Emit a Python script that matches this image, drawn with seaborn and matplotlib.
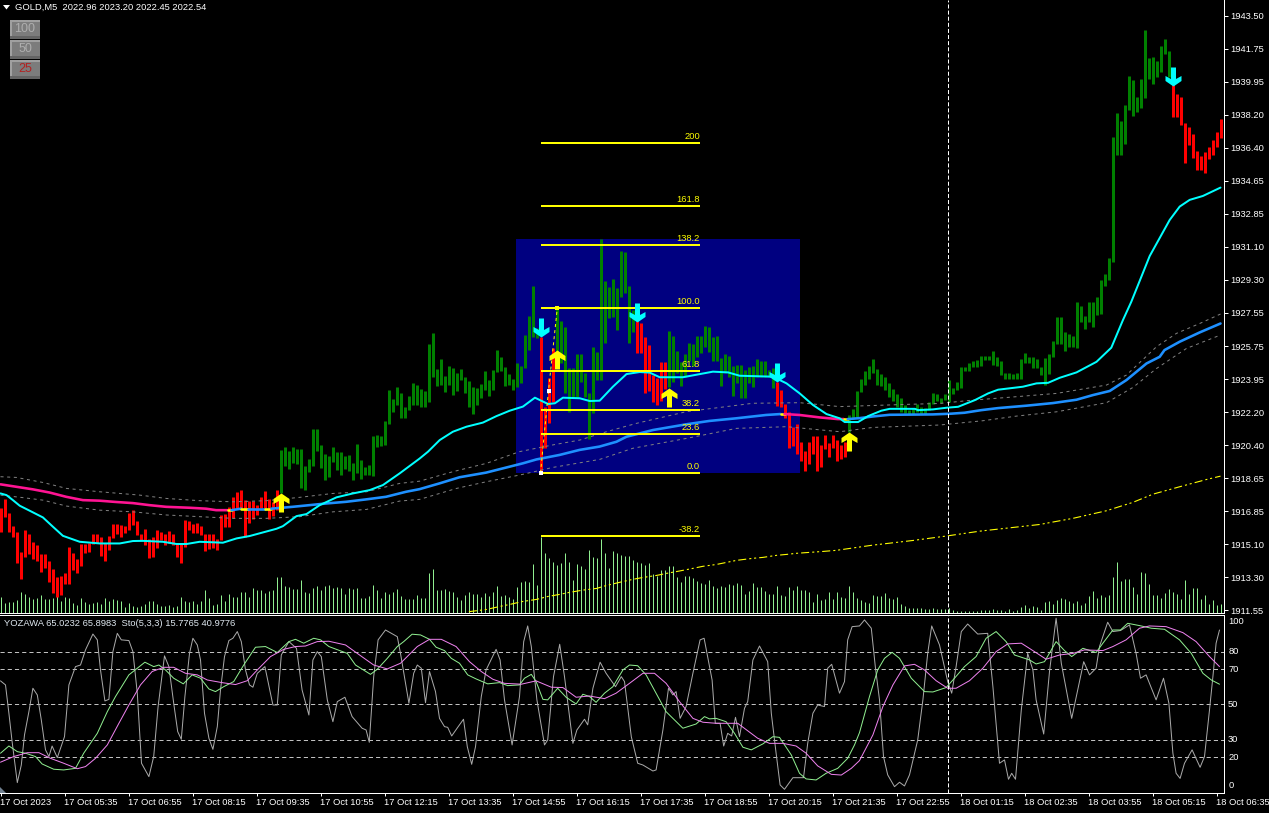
import numpy as np
import matplotlib
matplotlib.use("Agg")
import matplotlib.pyplot as plt
from matplotlib.patches import Rectangle, Polygon
from matplotlib.path import Path
from matplotlib.markers import MarkerStyle
import seaborn as sns

# ---------- data ----------
candle_high = [
1917.01,1917.50,1916.75,1916.06,1915.76,1914.68,1915.85,1915.63,1915.22,1915.04,
1914.56,1914.56,1914.18,1913.75,1913.34,1913.37,1913.52,1914.92,1914.59,1914.29,
1915.10,1915.10,1915.13,1915.63,1915.63,1915.49,1915.13,1915.53,1916.17,1916.17,
1916.12,1916.06,1916.75,1916.92,1916.33,1915.63,1915.90,1915.37,1915.49,1915.85,
1915.74,1915.63,1915.78,1915.62,1915.10,1915.13,1916.39,1916.33,1916.17,1916.21,
1916.06,1915.62,1915.62,1915.62,1915.37,1916.66,1916.71,1917.10,1917.61,1917.91,
1918.00,1917.46,1917.41,1917.41,1917.19,1917.64,1917.95,1917.50,1917.37,1918.00,
1920.16,1920.32,1920.10,1920.32,1920.21,1920.21,1919.30,1919.67,1921.29,1921.29,
1920.43,1919.94,1919.83,1920.32,1920.05,1920.05,1919.83,1919.89,1919.46,1920.48,
1919.62,1919.24,1919.35,1920.91,1920.96,1920.91,1921.72,1923.38,1922.90,1923.54,
1923.22,1922.47,1923.06,1923.76,1923.65,1923.44,1923.33,1925.86,
1926.43,1924.50,1925.03,1924.14,1924.67,1924.58,1924.28,1924.50,1924.10,1923.87,
1923.53,1923.47,1923.71,1924.41,1923.92,1924.46,1925.54,1925.14,1924.60,1924.24,
1923.98,1924.82,1924.67,1926.34,1927.36,1928.98,1926.70,1926.25,1922.49,1924.01,
1925.66,1927.72,1927.10,1926.79,1924.55,1924.55,1925.32,1925.32,1924.28,1923.20,
1925.71,1925.45,1931.51,1929.25,1928.94,1929.34,1928.89,1930.86,1930.82,1928.99,
1927.69,1927.24,1926.97,1926.22,1925.80,1924.19,1924.05,1924.91,1924.91,1926.56,
1926.29,1925.50,1924.91,1925.30,1925.93,1925.86,1926.29,1926.29,1926.83,1926.75,
1926.25,1926.29,1925.12,1925.32,1925.21,1924.67,1924.73,1924.73,1924.46,1924.64,
1924.67,1925.05,1924.96,1924.94,1924.46,1924.55,1923.83,1923.38,1922.63,1922.22,
1921.38,1921.55,1920.60,1920.12,1920.60,1920.93,1920.91,1920.43,1920.96,1920.51,
1920.96,1920.69,
1920.42,1920.60,1922.03,1922.34,1923.32,1924.00,1924.40,1924.67,1925.03,1924.49,
1924.22,1924.06,1923.74,1923.43,1923.15,1922.93,1922.57,1922.30,1922.43,1922.61,
1922.45,1922.39,1922.72,1923.20,1923.15,1922.98,1923.15,1923.92,1923.47,1923.79,
1924.60,1924.60,1924.81,1924.94,1924.99,1925.21,1925.23,1925.21,1925.48,1925.14,
1924.94,1924.31,1924.28,1924.24,1924.28,1925.03,1925.40,1925.17,1925.14,1925.03,
1924.63,1925.08,1925.30,1926.01,1927.29,1927.29,1926.52,1926.37,1926.30,1928.09,
1927.90,1927.36,1928.12,1928.12,1928.39,1929.30,1929.62,1930.48,1937.01,1938.27,
1937.86,1938.72,1940.28,1940.06,1939.13,1940.12,1942.75,1941.23,1941.28,1941.10,
1941.89,1942.27,1941.62,1939.88,1939.31,1939.15,1937.73,1937.53,1937.16,1936.24,
1935.97,1936.19,1936.46,1936.84,1937.27,1937.96]

candle_low = [
1915.76,1916.53,1915.76,1915.49,1914.09,1913.21,1914.42,1914.54,1914.32,1914.20,
1913.61,1913.79,1913.07,1912.48,1912.26,1912.35,1912.94,1912.94,1913.70,1913.55,
1913.93,1914.63,1914.68,1915.10,1915.13,1914.47,1914.20,1914.77,1915.44,1915.62,
1915.49,1915.67,1915.85,1916.12,1915.58,1915.27,1915.04,1914.36,1914.42,1914.90,
1915.31,1915.04,1915.13,1915.04,1914.42,1914.09,1914.95,1915.85,1915.67,1915.71,
1915.58,1914.72,1914.81,1914.86,1914.77,1915.31,1915.99,1916.03,1916.48,1917.01,
1917.01,1915.49,1916.21,1916.46,1916.66,1917.01,1917.01,1916.42,1916.60,1916.92,
1917.83,1919.30,1919.13,1919.46,1919.40,1918.11,1918.00,1918.97,1919.30,1920.10,
1919.19,1918.54,1918.70,1919.51,1919.08,1918.81,1919.13,1919.03,1918.54,1918.92,
1918.60,1918.81,1918.81,1918.76,1920.32,1920.37,1920.43,1921.55,1922.20,1922.58,
1921.88,1921.88,1922.31,1922.58,1922.58,1922.47,1922.47,1922.74,
1924.10,1923.62,1923.65,1923.29,1923.65,1923.11,1923.35,1923.92,1923.20,1922.49,
1922.09,1922.58,1922.97,1923.38,1923.06,1923.38,1924.37,1924.41,1923.62,1923.65,
1923.38,1923.56,1923.74,1924.58,1925.54,1926.25,1926.16,1918.92,1920.25,1921.59,
1922.76,1925.45,1924.82,1923.24,1922.22,1923.02,1923.02,1923.83,1923.02,1920.73,
1922.16,1923.92,1923.92,1925.89,1927.24,1927.29,1926.61,1928.40,1928.62,1925.93,
1926.49,1925.39,1925.39,1923.24,1923.33,1922.76,1922.58,1922.81,1923.42,1923.56,
1923.83,1924.28,1923.60,1924.10,1924.96,1924.69,1925.18,1925.36,1925.71,1925.45,
1924.94,1924.94,1923.62,1924.28,1924.10,1923.08,1923.74,1922.97,1922.97,1923.78,
1923.53,1924.10,1924.10,1924.10,1924.10,1923.47,1922.54,1922.49,1921.86,1920.26,
1920.37,1919.94,1919.58,1919.04,1919.40,1919.94,1919.04,1919.26,1920.21,1919.80,
1920.25,1919.58,
1919.65,1919.79,1921.14,1921.85,1921.94,1923.29,1923.65,1924.00,1924.28,1923.65,
1923.59,1923.38,1923.02,1922.79,1922.48,1922.21,1922.12,1922.09,1922.09,1922.21,
1922.09,1922.09,1922.30,1922.63,1922.79,1922.70,1922.84,1922.75,1923.15,1923.38,
1923.47,1924.42,1924.42,1924.63,1924.63,1924.69,1924.99,1924.99,1924.72,1924.69,
1924.19,1924.00,1924.00,1923.97,1924.00,1923.97,1924.81,1924.85,1924.54,1924.58,
1924.19,1923.65,1924.24,1925.17,1925.85,1925.85,1925.48,1925.71,1925.71,1925.66,
1927.04,1926.66,1927.04,1926.77,1927.42,1927.47,1928.98,1929.30,1930.27,1936.03,
1936.03,1936.62,1938.45,1938.13,1938.31,1938.54,1939.08,1940.10,1939.85,1940.21,
1940.47,1941.46,1940.24,1938.09,1938.05,1937.64,1935.58,1936.57,1935.87,1935.22,
1935.22,1935.04,1935.81,1936.03,1936.46,1936.94]

bull_runs = [(70, 134), (139, 158), (167, 193), (212, 292)]

tick_volume = [
16,10,11,11,13,21,19,16,14,15,18,14,14,15,17,12,16,
15,10,8,15,11,9,10,11,9,15,12,14,13,12,6,10,7,6,7,9,12,12,9,7,7,8,6,7,16,12,
11,12,9,12,23,15,8,9,18,12,19,16,16,21,21,16,25,23,23,20,22,23,36,36,27,26,24,24,33,21,
20,25,27,23,27,28,25,26,25,19,25,24,25,15,15,17,28,23,15,21,19,21,24,17,14,14,14,18,
15,15,40,44,23,23,24,22,21,16,13,18,21,19,19,16,20,17,21,27,17,18,16,14,26,31,32,31,49,28,
76,60,55,51,48,50,60,51,33,49,47,44,63,56,55,74,60,45,62,60,58,57,57,53,51,50,48,50,39,37,
43,43,47,47,36,31,37,37,35,32,30,29,33,27,25,27,26,29,28,30,28,19,22,30,26,26,22,19,19,27,
18,17,26,23,27,23,23,21,11,19,13,14,21,14,21,
16,15,27,21,15,13,11,10,18,17,17,20,15,14,16,9,7,5,5,5,5,4,4,5,4,4,4,5,3,2,2,2,2,2,2,3,3,3,
4,3,3,2,4,2,3,6,8,5,7,6,3,11,12,9,13,15,14,12,10,12,8,10,17,22,15,18,16,18,36,51,32,34,34,26,
19,41,40,29,18,18,15,20,24,21,19,14,33,19,25,25,14,18,9,13,8,9]

fast_i = [0,1.5,3.1,4.8,7.3,10.6,13.1,15.6,19.8,24.8,29.8,33.1,35.6,40.6,44,46.5,49.8,55.6,59,62.3,69,70.6,74,76.5,79.8,84,88.1,92.3,95.6,99.8,104.8,
          106.9,109.8,113.1,116.5,120.6,124,127.3,130.6,133.6,136.9,138.6,140.6,144.8,147.3,149.8,153.1,156.5,159.8,162.3,164.8,170.6,178.1,181.9,184.8,193.1,196.5,199.8,203.1,206.5,209.8,
          211.05,214.4,216.9,220.2,222.3,228.6,229.4,233.1,236.5,239.4,243.6,246.9,249.4,255.6,259,261.9,264.8,269,274,277.7,280.6,282.7,287.3,292.3,294.8,297.3,300.6,305]
fast_ma = [1917.82,1917.73,1917.46,1917.16,1916.89,1916.53,1916.03,1915.54,1915.22,1915.13,1915.13,1915.26,1915.27,1915.22,1915.10,1915.10,1915.22,1915.17,1915.40,1915.53,1915.92,1916.06,1916.60,1916.71,1917.19,1917.61,1917.82,1918.0,1918.27,1918.90,1919.70,
           1920.07,1920.69,1921.14,1921.41,1921.63,1921.98,1922.27,1922.49,1922.97,1922.63,1922.67,1922.97,1922.94,1922.79,1922.81,1923.56,1924.24,1924.35,1924.32,1924.07,1924.07,1924.37,1924.33,1924.15,1924.10,1923.74,1923.20,1922.58,1922.09,1921.86,
           1921.66,1921.66,1921.98,1922.27,1922.37,1922.37,1922.30,1922.34,1922.43,1922.48,1922.84,1923.20,1923.40,1923.56,1923.74,1923.77,1924.04,1924.33,1924.90,1925.66,1927.14,1928.13,1930.59,1932.53,1933.25,1933.61,1933.82,1934.27]

slow_i = [0,3.9,8.1,12.25,16.4,20.6,24.75,28.9,33.1,37.25,41.4,47.25,51.4,53.9,56.75,57.75,60.2,61.8,66,67.7,73,77.25,81.4,86.4,91.4,96.4,101.4,104.75,
          109.75,114.75,121.4,130.6,134,139.75,144.75,149.75,154,156.5,163.1,171.5,177.25,183.9,191.4,195,196,199.75,204.75,209.3,
          210.8,211.8,214.8,218.1,222.3,233.1,237.7,241,245.2,249.4,256.5,263.1,269,273.1,277.3,281.5,286.5,289.8,291,294.8,299.8,305]
slow_ma = [1918.31,1918.18,1918.04,1917.87,1917.64,1917.46,1917.43,1917.36,1917.30,1917.19,1917.10,1917.05,1917.0,1916.92,1916.92,1916.92,1917.0,1917.0,1917.0,1917.0,1917.1,1917.19,1917.28,1917.37,1917.5,1917.64,1917.91,1918.05,
           1918.36,1918.69,1918.94,1919.44,1919.65,1919.89,1920.16,1920.34,1920.60,1920.87,1921.23,1921.54,1921.72,1921.86,1922.04,1922.09,1922.09,1922.04,1921.91,1921.82,
           1921.82,1921.82,1921.87,1921.96,1922.05,1922.07,1922.11,1922.16,1922.30,1922.41,1922.54,1922.68,1922.86,1923.11,1923.33,1923.92,1924.81,1925.17,1925.53,1925.98,1926.48,1926.96]
slow_runs = [(0,56.75,"#ff1493"),(56.75,57.75,"#ffff00"),(57.75,60.2,"#1e90ff"),(60.2,61.8,"#ffff00"),(61.8,66,"#1e90ff"),(66,67.7,"#ffff00"),
             (67.7,195,"#1e90ff"),(195,196,"#ffff00"),(196,210.8,"#ff1493"),(210.8,211.8,"#ffff00"),(211.8,305,"#1e90ff")]

upper_i = [0,4,10.6,16.5,24.8,34.8,41.5,49.8,58.1,66.5,74.8,83.1,91.5,99.8,104.8,113.1,121.5,129.8,138.1,144.8,151.5,159,171.5,188.1,199.8,209.8,226.5,234.8,243.1,251.5,264,276.5,281.5,289,294,299.8,305]
upper_band = [1918.72,1918.68,1918.41,1918.09,1917.91,1917.73,1917.55,1917.43,1917.37,1917.43,1917.61,1917.82,1917.91,1918.36,1918.48,1918.99,1919.44,1920.07,1920.43,1920.69,1921.14,1921.59,1922.22,1922.67,1922.70,1922.49,1922.61,1922.66,1922.84,1922.98,1923.20,1923.65,1924.19,1925.71,1926.43,1926.96,1927.47]
lower_i = [0,5,10.6,16.5,24.8,33.1,41.5,49.8,58.1,66.5,74.8,83.1,91.5,99.8,104.8,114,121.5,129.8,138.1,149.8,158.1,171.5,184,196.5,209.8,218.1,234.8,245.6,254,264,276.5,283.1,289,296.5,305]
lower_band = [1917.73,1917.61,1917.46,1917.14,1916.92,1916.83,1916.66,1916.57,1916.48,1916.48,1916.57,1916.83,1916.96,1917.41,1917.50,1918.09,1918.45,1918.81,1919.22,1919.65,1920.25,1920.78,1921.32,1921.41,1921.14,1921.37,1921.50,1921.73,1921.98,1922.21,1922.70,1923.52,1924.54,1925.62,1926.34]

long_i = [117.1,121.5,124.8,127.3,130.6,134,136.9,139.8,142.3,145.6,149,151.5,154.8,158.1,160.6,164,166.5,169.8,173.1,175.6,179,181.5,184,188.1,190.6,194,196.5,199,202.3,205.6,209,218.1,228.1,236.5,244.8,253.1,259.8,268.1,276.5,283.1,288.1,294.8,301.5,305]
long_ma = [1911.46,1911.58,1911.74,1911.85,1912.01,1912.12,1912.28,1912.39,1912.50,1912.62,1912.71,1912.87,1913.04,1913.20,1913.30,1913.41,1913.52,1913.65,1913.79,1913.90,1914.0,1914.11,1914.22,1914.33,1914.38,1914.49,1914.54,1914.60,1914.65,1914.70,1914.76,1915.04,1915.29,1915.53,1915.79,1915.99,1916.15,1916.48,1916.89,1917.34,1917.78,1918.18,1918.57,1918.75]

fib_start = 1918.92
fib_end = 1927.79
fib_levels = [0.0, 23.6, 38.2, 61.8, 100.0, 138.2, 161.8, 200.0, -38.2]
fib_span = [135, 174.9]
fib_line_i = [135, 137, 139.2]
fib_zone_i = [128.9, 199.9]
fib_zone_price = [1918.92, 1931.51]

up_signal_i = [70, 139, 167, 212]
up_signal_price = [1917.84, 1925.54, 1923.49, 1921.12]
down_signal_i = [135, 159, 194, 293]
down_signal_price = [1926.23, 1927.04, 1923.81, 1939.74]

cursor_i = 236.9

price_ticks = [1943.50,1941.75,1939.95,1938.20,1936.40,1934.65,1932.85,1931.10,1929.30,1927.55,1925.75,1923.95,1922.20,1920.40,1918.65,1916.85,1915.10,1913.30,1911.55]
time_labels = ["17 Oct 2023","17 Oct 05:35","17 Oct 06:55","17 Oct 08:15","17 Oct 09:35","17 Oct 10:55","17 Oct 12:15","17 Oct 13:35","17 Oct 14:55","17 Oct 16:15",
               "17 Oct 17:35","17 Oct 18:55","17 Oct 20:15","17 Oct 21:35","17 Oct 22:55","18 Oct 01:15","18 Oct 02:35","18 Oct 03:55","18 Oct 05:15","18 Oct 06:35"]
time_ticks = list(range(0, 305, 16))

sto_levels = [80, 70, 50, 30, 20]
sto_labels = [100, 80, 70, 50, 30, 20, 0]

stoch_i = [0,1.25,2.1,2.9,4.2,5.2,6,7.1,8.1,9.2,10.2,11.25,12.1,12.9,14.2,16,17.1,18.75,20,21.25,23.1,24.2,25,26.1,27.1,28.1,29.2,30.2,32.1,33.1,34.2,35.25,37.1,38.3,39.4,41,42.1,43.3,44.3,45.2,46.1,47.25,48.1,49.2,50,51,52.1,53.1,54.2,55,56,57.1,58.1,59.2,60.2,61.25,62.25,63.1,64.2,66.1,68.1,69.2,70.2,72.1,74,75.4,77.1,78.1,79.2,80.2,81.7,83.1,84.2,86.1,87.9,90.4,91.4,92.2,93.3,94.4,96.25,99.2,100,102.1,103.3,104.2,105.2,106.25,107.25,
           108.75,109.75,111,111.8,112.8,114.3,115.75,116.7,117.8,118.75,120.2,121.4,123.9,124.9,126,127.9,129.75,130.8,131.8,132.7,134.1,136,136.8,138.25,139.8,141,142.25,143.1,144.1,146,146.8,148.1,149.9,151.4,153.75,155.2,156,157.7,159.3,160.6,163.1,163.9,165.6,167,168.1,168.9,169.9,171.4,173.1,174.9,175.9,177.9,178.7,179.9,180.8,181.8,182.8,183.75,184.75,186,186.8,188.1,189.75,191.8,192.7,193.9,194.9,196,198.1,200.75,201.8,203.1,204.3,206,206.8,207.8,209.75,211,211.8,212.9,214.75,
           216,217.7,218.7,219.75,220.75,221.8,223.5,224.75,226,227.25,229.3,230.6,231.8,232.8,234.75,236.8,237.8,238.9,240.2,241.8,244.3,246.8,248.1,249.75,251,252,252.8,253.75,255.2,256.8,258.1,258.9,260.8,262.25,263.9,265.2,267.8,270.8,272.25,273.9,274.75,276.8,278.1,280,282.25,283.9,285,286.4,288.9,290.75,292.1,293.1,293.9,294.9,296,297.9,299.9,301,302.25,303.1,303.9,304.75]
stoch_k = [63.4,61.1,45,28.9,5.6,15.6,32.7,45.9,59.2,55.4,41.2,24.2,20.4,26.4,19.8,31.7,61.1,71.5,72.4,81,90,86.7,69.6,52,52.9,80,90.4,86.7,86.3,80,56.4,16.6,9,20.4,48.8,77.6,71.5,50.7,34.6,30.2,54.5,79,87.6,83.8,75.3,45,30.8,24.5,37.4,58.2,77.2,86.3,87.6,91.4,85.7,69.6,61.1,59.8,67.7,71.5,49.7,49.7,78.1,85.7,81.9,58.2,44,75.3,80,77.2,52.6,40.2,51.6,54.1,43.1,36.5,35.5,28.5,65.8,86.7,92.3,88.5,79,50.7,67.7,72.4,70.6,51,68.7,
           57.3,42.1,37.4,37,32.1,37,41.6,26,16,26,54.5,69.6,81.3,75.3,52.6,27,54.5,85.7,94.6,82.9,52.6,27,29.8,65.8,84.2,65.8,43.1,27.9,35.5,41.6,38.4,59.2,74,67.7,60.1,65.8,63,31.7,16.6,15.6,12.2,12.8,35.5,59.2,55.4,57.3,42.1,48.8,67.7,86.7,87.6,63.9,39.3,39.3,26.4,33.6,32.1,42.7,31.7,47.8,51.6,75.3,83.2,74.3,45,22.3,4.3,1.8,8.4,8.4,27.9,45,49.7,48.8,70.6,72.8,56.4,63,86.7,94.2,94.6,
           98,93.3,71.5,52.6,20.4,10,3.3,5.8,3.7,10,29.8,52.6,79,94.6,83.8,63,56.4,71.5,91.4,95.7,90,90.4,60.1,16.6,18.5,7.5,10.9,7.5,46.9,79,69.6,52.6,33.2,68.7,99,73.4,42.1,74.3,66.8,70.6,82.9,96.7,91.4,92,95.2,79,64.9,66.8,52.6,64.9,50.7,22.3,10.9,8,16.6,24.2,14.3,20.4,46.9,65.8,84.8,92.3]

signal_i = [0,2.1,4.2,6.25,8.75,10.4,13.3,15.8,18.75,20.8,24.2,26.7,28.75,32.1,34.2,36.1,38.3,39.6,41.25,43.3,45.7,47.9,50,52.1,53.75,55.8,58.3,60.8,63.75,66.25,69.2,72.1,73.75,75.8,78.3,80,82.1,86.7,88.75,92.5,94.2,96.7,99.2,100.8,102.9,105,107.25,
            108.9,111,112.7,114.75,116.8,118.9,121.8,124.75,126.8,129.75,131,132.7,133.9,135.6,136.8,139.3,141.4,143.9,145.6,147.25,148.9,151,153.1,155.6,157.25,159.3,161.4,163.9,166.4,170.6,173.9,176,177.25,178.9,181.4,183.5,185.6,187.7,190.6,193.1,194.75,197.7,199.75,201.4,203.9,206.4,209.3,211.8,213.5,214.75,
            217.25,219.3,221,222.9,224.75,227.7,231,233.1,236.4,238.5,241,243.9,246.4,248.9,251.4,253.5,257.25,258.9,261,263.9,266,267.8,270.6,273.9,275.6,278.1,280,281.8,284.75,287.7,291,294.75,297.7,300.6,302.7,304.75]
stoch_d = [22.3,26.4,23.2,22.3,20.4,16.2,13.2,12.8,13.7,22.3,33.6,45.9,54.5,66.8,70.6,74,71.5,72.4,69.6,64.9,61.7,66.8,64.9,58.8,57.3,60.1,63,72.4,82.5,82.9,79.5,85.7,87,84.8,87.6,86.7,82.9,79,72.4,67.1,70,76.2,82.9,85.7,89.9,89.5,87,
           82.5,80.6,76.2,73.4,66.8,64.5,61.7,62.4,60.7,61.1,64.9,67.1,63,52.9,52.6,59.2,54.1,50.3,55.8,54.5,51.2,56.4,60.1,69.6,72.4,72,66.8,56.4,45.9,36.5,38.9,43.1,41.8,42.1,40.2,33.6,25.7,24.2,27.6,31.7,31.3,21.3,10.9,7.7,7.1,10.9,13.7,19.4,27,34,
           54.5,69.6,76.2,79.6,76.2,64.9,57.3,57.1,59.6,64.9,71.5,77.2,87.6,91.4,85.7,78.1,75.3,73,74.3,85.7,80.6,77.2,81.9,79.5,84.8,92.3,92.3,96.1,94.8,93.3,92.7,86.7,79,67.7,63.9,61.5]

slow_sto_i = [0,3.3,6.7,9.6,12.5,15.8,19.2,21.25,23.75,26.7,29.6,32.1,35,37.9,40.8,43.3,46.25,49.2,51.7,55.4,58.75,61.7,64.2,67.5,70.8,73.75,76.25,79.2,82.1,86.25,89.2,93.3,96.7,100,104.2,107.25,
              110.2,113.9,117.25,120.2,123.1,126,130.2,133.9,137.7,140.6,143.9,147.25,151,153.9,157.25,160.6,163.5,166.4,169.75,173.1,175.6,178.9,184.3,189.3,192.25,195.6,198.9,201.4,204.3,207.7,210.2,212.7,214.75,
              218.1,220.6,223.1,226,228.5,231,233.9,236.8,238.9,242.25,245.6,248.9,251.8,255.2,258.5,261.4,264.75,268.1,271,275.6,278.1,281.4,284.75,287.25,291.4,295.6,298.9,302.25,304.75]
stoch_slow = [17.2,20.4,22.6,22.6,19.4,16.6,13.5,14.7,19.4,27,39.3,49.7,61.1,68.7,71.1,71.1,67.7,66.8,63.9,62.4,61.3,63.5,69.6,77.2,81.3,82.9,83.2,85.7,85.9,83.8,79,72.4,70.2,73.4,82.9,87,
              87,82.9,74.3,68.7,64.3,62,61.5,63.4,59.8,59.6,54.1,54.8,53.3,56.4,62,67.7,67.7,62,51.6,42.1,39.9,39.3,39.3,30.8,27.9,27.9,26.4,22.3,15.1,10.3,9.9,13.7,18.1,
              32.7,48.8,61.1,71.9,72.8,69.6,63.5,59.2,59.2,63.5,70.6,80,84.4,84.8,80,75.7,78.1,79,81,80.6,82.9,86.7,93.3,94.6,94.2,90.8,85.7,77.2,71.5]

# ---------- style ----------
W, H = 1269, 813
sns.set_theme(style="dark", rc={
    "axes.facecolor": "black", "figure.facecolor": "black", "savefig.facecolor": "black",
    "lines.scale_dashes": False, "text.color": "white",
    "xtick.color": "white", "ytick.color": "white",
})
plt.rcParams["font.family"] = ["Liberation Sans", "DejaVu Sans"]
FS = 6.75
PX = 0.72   # points per pixel at 100 dpi


def box(l, t, r, b):
    return [l / W, 1 - b / H, (r - l) / W, (b - t) / H]


fig = plt.figure(figsize=(W / 100, H / 100), dpi=100)
ax_vol = fig.add_axes(box(0, 0, 1224, 612.5), zorder=1)
ax = fig.add_axes(box(0, 0, 1224, 612.5), zorder=2)
ax_sto = fig.add_axes(box(0, 614.5, 1224, 793), zorder=2)
ax.patch.set_alpha(0)

XLIM = (-0.125, 305.875)   # one bar every 4 px, centred on a pixel
for a in (ax_vol, ax, ax_sto):
    a.set_xlim(*XLIM)
    a.grid(False)

ax.set_ylim(1911.416, 1944.36)
ax_sto.set_ylim(-0.3, 101.1)
ax_vol.set_ylim(0, 612.5)
ax_vol.axis("off")


def draw(axis, x, y, color, lw_px=1.0, ls="-", z=3):
    sns.lineplot(x=list(x), y=list(y), ax=axis, color=color, linewidth=lw_px * PX,
                 estimator=None, sort=False, legend=False, linestyle=ls, zorder=z,
                 errorbar=None)


# volume
ax_vol.vlines(np.arange(len(tick_volume)), 0, tick_volume, color="#90ee90",
              linewidth=PX, antialiased=True)

# fibo zone
ax.add_patch(Rectangle((fib_zone_i[0], fib_zone_price[0]), fib_zone_i[1] - fib_zone_i[0],
                       fib_zone_price[1] - fib_zone_price[0], facecolor="#000080",
                       edgecolor="none", zorder=0.5))

# candles
n = len(candle_high)
idx = np.arange(n)
colors = np.array(["#ff0000"] * n, dtype=object)
for a0, a1 in bull_runs:
    colors[a0:a1 + 1] = "#008000"
ax.vlines(idx, candle_low, candle_high, colors=list(colors), linewidth=3 * PX,
          antialiased=True, zorder=2)

# moving averages and bands
gray_dash = (0, (2.2, 2.6))
draw(ax, upper_i, upper_band, "#808080", 1, gray_dash, 2.5)
draw(ax, lower_i, lower_band, "#808080", 1, gray_dash, 2.5)
draw(ax, long_i, long_ma, "#ffff00", 1.1, (0, (5.8, 2.2, 1.5, 2, 1.5, 2.2)), 3)
si = np.array(slow_i, dtype=float)
sv = np.array(slow_ma, dtype=float)
for a0, a1, col in slow_runs:
    m = (si >= a0) & (si <= a1)
    draw(ax, si[m], sv[m], col, 2.6, "-", 3.2)
draw(ax, fast_i, fast_ma, "#00ffff", 2.0, "-", 3.4)

# fibonacci
for lev in fib_levels:
    p = fib_start + (fib_end - fib_start) * lev / 100
    ax.hlines(p, fib_span[0], fib_span[1], color="#ffff00", linewidth=2 * PX, zorder=4,
              antialiased=False)
    ax.annotate("200" if lev == 200 else f"{lev:.1f}",
                xy=(fib_span[1], p), xytext=(0, 1.2), textcoords="offset points",
                ha="right", va="bottom", color="#ffff00", fontsize=FS, zorder=5)
fib_line_p = [fib_start, (fib_start + fib_end) / 2, fib_end]
draw(ax, fib_line_i, fib_line_p, "#ffff00", 1, (0, (2.2, 2.2)), 4.2)
ax.scatter(fib_line_i[:2], fib_line_p[:2], marker="s", s=8, color="white", zorder=5, linewidths=0)
ax.scatter(fib_line_i[2:], fib_line_p[2:], marker="s", s=8, color="#ffff00", zorder=5, linewidths=0)

# signal arrows (tip of the marker sits on the price)
up_path = Path([(0, 0), (8, -5.5), (8, -10.5), (2.5, -7.5), (2.5, -19), (-2.5, -19), (-2.5, -7.5),
                (-8, -10.5), (-8, -5.5), (0, 0)], closed=True)
down_path = Path([(x, -y) for x, y in up_path.vertices], closed=True)
SIZE = (2 * 19 * PX) ** 2
ax.scatter(up_signal_i, up_signal_price, marker=MarkerStyle(up_path), s=SIZE, color="#ffff00",
           linewidths=0, zorder=6)
ax.scatter(down_signal_i, down_signal_price, marker=MarkerStyle(down_path), s=SIZE, color="#00ffff",
           linewidths=0, zorder=6)

# stochastic
for lev in sto_levels:
    ax_sto.axhline(lev, color="#c0c0c0", linewidth=PX, linestyle=(0, (3.0, 2.2)), zorder=1)
draw(ax_sto, stoch_i, stoch_k, "#a9a9a9", 1, "-", 2)
draw(ax_sto, signal_i, stoch_d, "#90ee90", 1, "-", 3)
draw(ax_sto, slow_sto_i, stoch_slow, "#ee82ee", 1, "-", 4)

for a in (ax, ax_sto):
    a.axvline(cursor_i, color="white", linewidth=PX, linestyle=(0, (2.9, 1.5)), zorder=7)

# axes furniture
ax.set_xticks([])
ax.yaxis.tick_right()
ax.set_yticks(price_ticks)
ax.set_yticklabels([f"{t:.2f}" for t in price_ticks], fontsize=FS, color="white")
ax.tick_params(axis="y", length=4 * PX, width=PX, pad=1.6, color="white", right=True, left=False)
ax.set_xlabel("")
ax.set_ylabel("")

ax_sto.set_xticks(time_ticks)
ax_sto.set_xticklabels(time_labels, fontsize=FS, color="white", ha="left")
ax_sto.tick_params(axis="x", length=3 * PX, width=PX, pad=1.6, color="white", bottom=True)
ax_sto.set_yticks([])
ax_sto.set_xlabel("")
ax_sto.set_ylabel("")
for lev in sto_labels:
    show = {100: 97.2, 0: 3.7}.get(lev, lev)
    ax_sto.annotate(str(lev), xy=(1, show), xycoords=("axes fraction", "data"), xytext=(3, 0),
                    textcoords="offset points", va="center", ha="left", fontsize=FS, color="white",
                    annotation_clip=False)

for a in (ax, ax_sto):
    for s in a.spines.values():
        s.set_visible(False)
    a.spines["right"].set_visible(True)
    a.spines["right"].set_color("white")
    a.spines["right"].set_linewidth(PX)
    a.spines["bottom"].set_visible(True)
    a.spines["bottom"].set_color("white")
    a.spines["bottom"].set_linewidth(PX)
ax_sto.spines["top"].set_visible(True)
ax_sto.spines["top"].set_color("white")
ax_sto.spines["top"].set_linewidth(PX)


# pixel-placed chart furniture
def fx(x):
    return x / W


def fy(y):
    return 1 - y / H


fig.add_artist(Polygon([(fx(3), fy(5)), (fx(10), fy(5)), (fx(6.5), fy(9.5))], closed=True,
                       facecolor="white", edgecolor="none", zorder=10))
fig.text(fx(15), fy(7.3), "GOLD,M5  2022.96 2023.20 2022.45 2022.54", color="white", fontsize=FS,
         va="center", ha="left", zorder=10)
fig.text(fx(4), fy(623.5), "YOZAWA 65.0232 65.8983  Sto(5,3,3) 15.7765 40.9776", color="#dfe8f0",
         fontsize=FS, va="center", ha="left", zorder=10)

for top, label, col in [(20, "100", "#aeaeae"), (40, "50", "#aeaeae"), (60, "25", "#b22222")]:
    fig.add_artist(Rectangle((fx(10), fy(top + 19)), 30 / W, 19 / H, facecolor="#a0a0a0",
                             edgecolor="none", transform=fig.transFigure, zorder=9))
    fig.add_artist(Rectangle((fx(10), fy(top + 19)), 30 / W, 3 / H, facecolor="#646464",
                             edgecolor="none", transform=fig.transFigure, zorder=9.1))
    fig.add_artist(Rectangle((fx(12), fy(top + 16)), 28 / W, 14 / H, facecolor="#7c7c7c",
                             edgecolor="none", transform=fig.transFigure, zorder=9.2))
    fig.text(fx(25), fy(top + 9.5), label, color=col, fontsize=9, va="center", ha="center", zorder=10)

fig.add_artist(Polygon([(fx(0), fy(787)), (fx(0), fy(793)), (fx(6), fy(793))], closed=True,
                       facecolor="#708090", edgecolor="none", zorder=10))

fig.savefig("out.png", dpi=100, facecolor="black")
